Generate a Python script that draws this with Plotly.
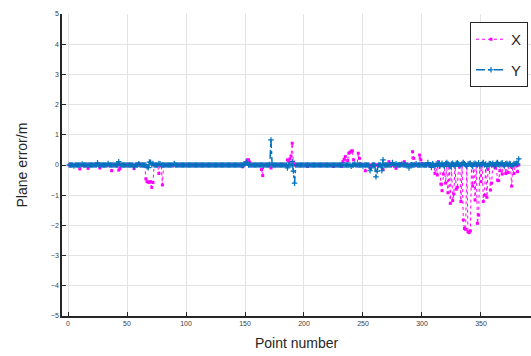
import plotly.graph_objects as go

# Point numbers 1..382
points = list(range(1, 383))

# Plane error in X (m)
x_err = [
    0, 0, 0, 0, 0, 0, 0, 0, 0, -0.13,            # 1-10
    0, 0, 0, 0, 0, 0, -0.11, 0, 0, 0,            # 11-20
    0, 0, 0, 0, 0, 0, -0.10, 0, 0, 0,            # 21-30
    0, 0, 0, 0, 0, 0, -0.19, 0, 0, 0,            # 31-40
    0, 0, -0.17, -0.12, 0, 0, 0, 0, 0, 0,        # 41-50
    0, 0, 0, 0, 0, -0.12, 0, 0, 0, 0.05,         # 51-60
    0, 0, 0, 0, 0, -0.46, -0.55, -0.57, -0.57, -0.55,   # 61-70
    -0.74, -0.58, 0, 0, 0, 0, -0.28, 0, 0, -0.66,       # 71-80
    0, 0, 0, 0, 0, 0, 0, 0, 0, 0,                # 81-90
    0, 0, 0, 0, 0, 0, 0, 0, 0, 0,                # 91-100
    0, 0, 0, 0, 0, 0, 0, 0, 0, 0,                # 101-110
    0, 0, 0, 0, 0, 0, 0, 0, 0, 0,                # 111-120
    0, 0, 0, 0, 0, 0, 0, 0, 0, 0,                # 121-130
    0, 0, 0, 0, 0, 0, 0, 0, 0, 0,                # 131-140
    0, 0, 0, 0, 0, 0, 0, -0.06, 0, 0.08,         # 141-150
    0.05, 0.17, 0.17, 0.10, 0, 0, 0, 0, 0, 0,    # 151-160
    0, 0, 0, -0.15, -0.35, 0, 0, 0, 0, 0,        # 161-170
    0, -0.10, 0, 0, 0, 0, 0, 0, 0, 0,            # 171-180
    0, 0, 0, 0, -0.02, 0.17, 0.10, 0.20, 0.30, 0.72,    # 181-190
    0.10, 0, 0, 0, 0, 0, 0, 0, 0, 0,             # 191-200
    0, 0, -0.05, 0, 0, 0, 0, 0, 0, 0,            # 201-210
    0, 0, 0, 0, 0, 0, 0, 0, 0, 0,                # 211-220
    0, 0, 0, 0, -0.05, 0, 0, 0, 0, 0,            # 221-230
    0, -0.05, 0.11, 0.19, 0.28, 0, 0.15, 0.39, 0.42, 0.46,  # 231-240
    0.47, 0.17, 0, 0, 0, 0.39, 0.22, 0, 0, 0,    # 241-250
    0, -0.19, 0, 0, 0, -0.10, 0, 0, 0, 0,        # 251-260
    0, 0, 0, 0, 0, 0, -0.15, 0, 0, 0,            # 261-270
    0, 0.11, 0, 0, 0, 0, 0, -0.11, 0, 0,         # 271-280
    0, 0.05, 0, 0, 0.11, 0, 0, 0, 0, 0,          # 281-290
    0, 0.44, 0.22, 0, 0, 0, 0, 0.33, 0.17, 0.05, # 291-300
    0, 0, 0, 0, 0, 0, 0.05, 0, 0, 0,             # 301-310
    -0.28, 0, -0.33, 0.11, 0, -0.63, -0.85, -0.30, 0, -0.60,    # 311-320
    0, -0.92, 0, -1.27, 0, -1.18, -0.96, 0, -0.80, -0.74,       # 321-330
    0, 0, -1.21, 0, -1.82, -2.10, -2.13, 0, -2.21, -2.24,       # 331-340
    -2.18, 0, -0.70, 0, -1.16, 0, -1.93, -1.66, 0, -0.55,       # 341-350
    0, -1.21, -1.00, 0, -1.07, -0.14, 0, -0.83, -0.60, 0,       # 351-360
    0, -0.10, 0, -0.50, -0.52, -0.19, 0, -0.30, 0, 0,           # 361-370
    -0.28, 0, -0.25, 0, 0, -0.70, 0, -0.28, 0, 0,               # 371-380
    -0.22, 0,                                                   # 381-382
]

# Plane error in Y (m)
y_err = [
    0, 0, 0, 0, -0.03, 0, 0, 0, 0, 0,            # 1-10
    0, 0.03, 0, 0, 0, 0, 0, 0, 0, 0,             # 11-20
    0, 0, 0, 0, 0.07, 0, 0, 0, 0, 0,             # 21-30
    0, 0, 0, 0.05, 0, 0, 0, 0, 0, 0,             # 31-40
    0, 0, 0.11, 0, 0, 0, 0, 0, 0, 0,             # 41-50
    0, 0, 0, 0, 0, -0.05, 0, 0, 0, 0.04,         # 51-60
    0, 0, 0, 0, 0, 0, -0.06, -0.09, 0.10, 0.09,  # 61-70
    0, 0.05, 0, 0, 0, 0, 0.05, 0.04, 0, 0,       # 71-80
    0, 0, 0, 0, 0, 0, 0, 0, 0, 0.05,             # 81-90
    0, 0, 0, 0, 0, 0, 0, 0, 0, 0,                # 91-100
    0, 0, 0, 0, 0, 0, 0, 0, 0, 0,                # 101-110
    0, 0, 0, 0, 0, 0, 0, 0, 0, 0,                # 111-120
    0, 0, 0, 0, 0, 0, 0, 0, 0, 0,                # 121-130
    0, 0, 0, 0, 0, 0, 0, 0, 0, 0,                # 131-140
    0, 0, 0, 0, 0, 0, 0, 0, 0, 0.04,             # 141-150
    0.10, 0.06, 0, 0, 0, 0, 0, 0, 0, 0,          # 151-160
    0, 0, 0, 0, 0, 0, 0, 0, 0, 0,                # 161-170
    0, 0.83, 0, 0, 0, 0, 0, 0, 0, 0,             # 171-180
    0, 0, 0, 0, 0, -0.10, 0, 0, 0, 0.11,         # 181-190
    -0.20, -0.60, 0, 0, 0, 0, 0, 0, 0, 0,        # 191-200
    0, 0, 0, 0, 0, 0, 0, 0, 0, 0,                # 201-210
    0, 0, 0, 0, 0, 0, 0, 0, 0, 0,                # 211-220
    0, 0, 0, 0, 0, 0, 0, 0, 0, 0,                # 221-230
    0, 0, 0, 0, 0, 0, 0, 0, 0, -0.04,            # 231-240
    0, 0, 0.03, 0, 0, 0, 0, 0, 0, -0.03,         # 241-250
    0, 0, 0, 0, 0, -0.19, -0.10, 0, 0, 0,        # 251-260
    -0.39, -0.20, 0, 0, 0, -0.19, 0.17, 0, 0, 0, # 261-270
    0, 0, 0, 0, 0.08, 0, 0, 0.04, 0, 0,          # 271-280
    0, 0, 0.03, 0, 0, 0, 0, 0, -0.10, 0,         # 281-290
    0, 0, 0, 0, 0.04, 0, 0, 0, 0, 0,             # 291-300
    0, 0, 0, 0, 0.08, 0, 0, -0.08, 0.04, 0,      # 301-310
    -0.05, 0.03, 0, 0.05, -0.04, 0, 0.06, 0, -0.05, 0.04,   # 311-320
    0.08, 0.04, 0, -0.05, 0.03, 0.06, 0, -0.04, 0.05, 0.07, # 321-330
    0.03, -0.03, 0, 0.05, 0.08, 0.04, 0, -0.04, 0.03, 0.05, # 331-340
    0.06, 0, -0.05, 0.03, 0.06, 0.02, 0, 0.07, -0.03, 0,    # 341-350
    0.05, 0.08, 0, 0.03, -0.05, 0, 0.05, 0.04, 0, 0.06,     # 351-360
    0, -0.04, 0.06, 0.08, 0.02, 0, 0.05, 0.07, 0, -0.03,    # 361-370
    0.04, 0.06, 0, 0.05, 0.03, -0.04, 0, 0.05, 0.04, 0.06,  # 371-380
    0.03, 0.20,                                             # 381-382
]

x_ticks = [0, 50, 100, 150, 200, 250, 300, 350]
y_ticks = [-5, -4, -3, -2, -1, 0, 1, 2, 3, 4, 5]

assert len(x_err) == len(points) == len(y_err), (len(x_err), len(y_err))

MAG = "#ff00ff"
BLUE = "#0072bd"

fig = go.Figure()
fig.add_trace(go.Scatter(
    x=points, y=x_err, name="X", mode="lines+markers", legendgroup="gx",
    line=dict(color=MAG, width=1, dash="dot"),
    marker=dict(symbol="square", size=3, color=MAG),
))
fig.add_trace(go.Scatter(
    x=points, y=y_err, name="Y", mode="lines+markers", legendgroup="gy",
    line=dict(color=BLUE, width=1.5, dash="dashdot"),
    marker=dict(symbol="cross-thin", size=4, color=BLUE,
                line=dict(color=BLUE, width=1.2)),
))

axis_common = dict(
    showline=True, linecolor="#262626", linewidth=1.5,
    ticks="inside", ticklen=4, tickwidth=1, tickcolor="#262626",
    tickfont=dict(family="Arial", size=7, color="#404040"),
    showgrid=True, gridcolor="#e3e3e3", gridwidth=1,
    zeroline=False,
)

fig.update_layout(
    width=531, height=356,
    margin=dict(l=62, r=0, t=14, b=40),
    paper_bgcolor="white", plot_bgcolor="white",
    font=dict(family="Arial", color="#262626"),
    xaxis=dict(range=[-5.1, 392.4], tickvals=x_ticks, **axis_common),
    yaxis=dict(range=[-5, 5], tickvals=y_ticks, **axis_common),
    showlegend=True,
    legend=dict(
        x=0.9936, xanchor="right", y=0.9735, yanchor="top",
        bgcolor="white", bordercolor="#262626", borderwidth=1,
        font=dict(family="Arial", size=15, color="#262626"),
        tracegroupgap=8, itemwidth=30,
    ),
    annotations=[
        dict(text="Point number", xref="paper", yref="paper",
             x=0.5, y=-0.055, xanchor="center", yanchor="top",
             showarrow=False, font=dict(family="Arial", size=14, color="#262626")),
        dict(text="Plane error/m", xref="paper", yref="paper",
             x=-0.065, y=0.5, xanchor="right", yanchor="middle", textangle=-90,
             showarrow=False, font=dict(family="Arial", size=14, color="#262626")),
    ],
)

fig.write_html(
    "out.html",
    config={"displayModeBar": False},
    post_script="document.body.style.margin='0px';document.body.style.overflow='hidden';",
)
